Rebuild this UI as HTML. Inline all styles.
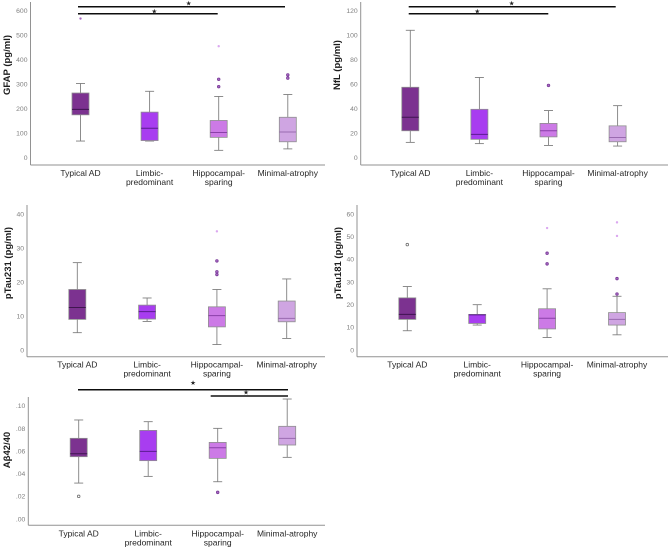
<!DOCTYPE html>
<html>
<head>
<meta charset="utf-8">
<style>
html,body{margin:0;padding:0;background:#fff;width:669px;height:548px;overflow:hidden}
svg{display:block}
text{font-family:"Liberation Sans",sans-serif}
</style>
</head>
<body>
<svg id="chart" width="669" height="548" viewBox="0 0 669 548" xmlns="http://www.w3.org/2000/svg">
<defs><filter id="soft" x="-5%" y="-5%" width="110%" height="110%"><feGaussianBlur stdDeviation="0.35"/></filter></defs>
<g id="root" filter="url(#soft)"></g>
</svg>
<script>
var categories = ['Typical AD', 'Limbic-|predominant', 'Hippocampal-|sparing', 'Minimal-atrophy'];
var categorySlugs = ['typical-ad', 'limbic-predominant', 'hippocampal-sparing', 'minimal-atrophy'];

// [min, q1, median, q3, max] per category
var gfapStats = [[68,175,197,264,303],[68,70,120,186,271],[30,83,103,152,250],[36,65,105,165,258]];
var gfapOutliers = [[],[],[290,320],[325,338]];
var gfapFaint = [[568],[],[455],[]];
var gfapTicks = [0,100,200,300,400,500,600];
var gfapTickLabels = ['0','100','200','300','400','500','600'];

var nflStats = [[12.5,22,33,57.5,104],[11.5,15,19,39.5,65.5],[10,17,22,28,38.5],[9.5,13,16.5,26,42.5]];
var nflOutliers = [[],[],[59],[]];
var nflFaint = [[],[],[],[]];
var nflTicks = [0,20,40,60,80,100,120];
var nflTickLabels = ['0','20','40','60','80','100','120'];

var ptau231Stats = [[5.1,9,12.5,17.8,25.7],[8.4,9.1,11.3,13.2,15.3],[1.6,6.8,10.1,12.7,17.8],[3.4,8.3,9.3,14.4,20.9]];
var ptau231Outliers = [[],[],[22.2,23,26.2],[]];
var ptau231Faint = [[],[],[34.9],[]];
var ptau231Ticks = [0,10,20,30,40];
var ptau231TickLabels = ['0','10','20','30','40'];

var ptau181Stats = [[8.5,13.5,15.7,23,28],[11,11.7,15.5,15.7,20],[5.5,9.3,14,18.2,27],[6.7,11,13.5,16.5,23.7]];
var ptau181Outliers = [[46.5],[],[38,42.7],[24.7,31.5]];
var ptau181Faint = [[],[],[53.8],[50.3,56.3]];
var ptau181Ticks = [0,10,20,30,40,50,60];
var ptau181TickLabels = ['0','10','20','30','40','50','60'];

var abetaStats = [[0.0317,0.055,0.0576,0.0712,0.0874],[0.0376,0.0515,0.0597,0.0782,0.0859],[0.0329,0.0535,0.0629,0.0676,0.08],[0.0544,0.0653,0.0712,0.0818,0.1059]];
var abetaOutliers = [[0.02],[],[0.0235],[]];
var abetaFaint = [[],[],[],[]];
var abetaTicks = [0,0.02,0.04,0.06,0.08,0.1];
var abetaTickLabels = ['.00','.02','.04','.06','.08','.10'];

var fills = ['#7b3190','#a83df0','#cc7ae6','#cfa5e2'];
var medians = ['#3f1250','#5a1a90','#8a3fa8','#9a6ab0'];
var NS = 'http://www.w3.org/2000/svg';
var root = document.getElementById('root');

function el(parent, tag, attrs, text) {
  var n = document.createElementNS(NS, tag);
  for (var k in attrs) n.setAttribute(k, attrs[k]);
  if (text !== undefined) n.textContent = text;
  parent.appendChild(n);
  return n;
}

function drawPanel(p) {
  var g = el(root, 'g', {});
  
  
  var maxTick = p.ticks[p.ticks.length - 1];
  function y(v) { return p.y0 + (p.yMax - p.y0) * (v / maxTick); }
  function x(i) { return p.c0 + i * p.step; }

  var yAxis = el(g, 'line', {x1:p.left, x2:p.left, y1:p.top, y2:p.bottom, stroke:'#929292', 'stroke-width':1});
  
  
  var xAxis = el(g, 'line', {x1:p.left, x2:p.right, y1:p.bottom, y2:p.bottom, stroke:'#929292', 'stroke-width':1});
  
  

  p.ticks.forEach(function(t, i) {
    var lab = el(g, 'text', {x:p.left - 3, y:y(t) + 2.4, 'text-anchor':'end', 'font-size':6.8, fill:'#808080'}, p.tickLabels[i]);
    
    
  });

  var title = el(g, 'text', {transform:'translate(' + p.titleX + ',' + p.titleY + ') rotate(-90)', 'text-anchor':'middle', 'font-size':9.5, 'font-weight':'bold', fill:'#1a1a1a'}, p.title);
  
  

  categories.forEach(function(c, i) {
    var lines = c.split('|');
    lines.forEach(function(line, j) {
      var lab = el(g, 'text', {x:x(i), y:p.bottom + 11 + j * 9, 'text-anchor':'middle', 'font-size':8.5, fill:'#262626'}, line);
      
      
    });

    var s = p.stats[i], cx = x(i);
    var box = el(g, 'g', {});
    
    
    el(box, 'line', {x1:cx, x2:cx, y1:y(s[0]), y2:y(s[1]), stroke:'#808080', 'stroke-width':0.9});
    el(box, 'line', {x1:cx, x2:cx, y1:y(s[3]), y2:y(s[4]), stroke:'#808080', 'stroke-width':0.9});
    el(box, 'line', {x1:cx - 4.5, x2:cx + 4.5, y1:y(s[0]), y2:y(s[0]), stroke:'#808080', 'stroke-width':0.9});
    el(box, 'line', {x1:cx - 4.5, x2:cx + 4.5, y1:y(s[4]), y2:y(s[4]), stroke:'#808080', 'stroke-width':0.9});
    el(box, 'rect', {x:cx - 8.5, y:y(s[3]), width:17, height:y(s[1]) - y(s[3]), fill:fills[i], stroke:'#8f8f8f', 'stroke-width':0.8});
    el(box, 'line', {x1:cx - 8.5, x2:cx + 8.5, y1:y(s[2]), y2:y(s[2]), stroke:medians[i], 'stroke-width':1});

    p.outliers[i].forEach(function(v) {
      var o = el(g, 'circle', {cx:cx, cy:y(v), r:1.3, fill:i === 0 ? '#fff' : '#a86cc4', stroke:i === 0 ? '#707070' : '#7a3a98', 'stroke-width':0.8});
      
      
    });
    p.faint[i].forEach(function(v) {
      var o = el(g, 'circle', {cx:cx, cy:y(v), r:1.2, fill:i === 0 ? '#a868c4' : '#dba8f0'});
      
      
    });
  });

  p.sig.forEach(function(b) {
    var bar = el(g, 'line', {x1:b[0], x2:b[1], y1:b[2], y2:b[2], stroke:'#111', 'stroke-width':1.5});
    
    
    var star = el(g, 'text', {x:b[3], y:b[4], 'text-anchor':'middle', 'font-size':6.5, fill:'#222'}, '★');
    
    
  });
}

drawPanel({name:'gfap', title:'GFAP (pg/ml)', titleX:10, titleY:65, left:30.5, right:325, top:2, bottom:165, y0:157.7, yMax:10.7, c0:80.5, step:69.1,
  stats:gfapStats, outliers:gfapOutliers, faint:gfapFaint, ticks:gfapTicks, tickLabels:gfapTickLabels,
  sig:[[78,285,6.7,188.7,5.5],[78,217.7,13.7,154.3,13.5]]});
drawPanel({name:'nfl', title:'NfL (pg/ml)', titleX:340, titleY:65, left:360.7, right:668, top:2, bottom:165, y0:157.7, yMax:10.7, c0:410.3, step:69.1,
  stats:nflStats, outliers:nflOutliers, faint:nflFaint, ticks:nflTicks, tickLabels:nflTickLabels,
  sig:[[408.7,615.7,6.7,511.7,5.5],[408.7,548.3,13.7,477.3,13.5]]});
drawPanel({name:'ptau231', title:'pTau231 (pg/ml)', titleX:11, titleY:263, left:27, right:325, top:205, bottom:356.7, y0:350, yMax:214, c0:77.3, step:69.8,
  stats:ptau231Stats, outliers:ptau231Outliers, faint:ptau231Faint, ticks:ptau231Ticks, tickLabels:ptau231TickLabels,
  sig:[]});
drawPanel({name:'ptau181', title:'pTau181 (pg/ml)', titleX:341, titleY:263, left:357, right:668, top:205, bottom:356.7, y0:350, yMax:214, c0:407.3, step:69.9,
  stats:ptau181Stats, outliers:ptau181Outliers, faint:ptau181Faint, ticks:ptau181Ticks, tickLabels:ptau181TickLabels,
  sig:[]});
drawPanel({name:'abeta', title:'Aβ42/40', titleX:10, titleY:450, left:28.3, right:325, top:397, bottom:525.3, y0:519, yMax:405.7, c0:78.7, step:69.5,
  stats:abetaStats, outliers:abetaOutliers, faint:abetaFaint, ticks:abetaTicks, tickLabels:abetaTickLabels,
  sig:[[78,288,389.7,193,385],[210.7,288,396,246,394.5]]});
</script>
</body>
</html>
